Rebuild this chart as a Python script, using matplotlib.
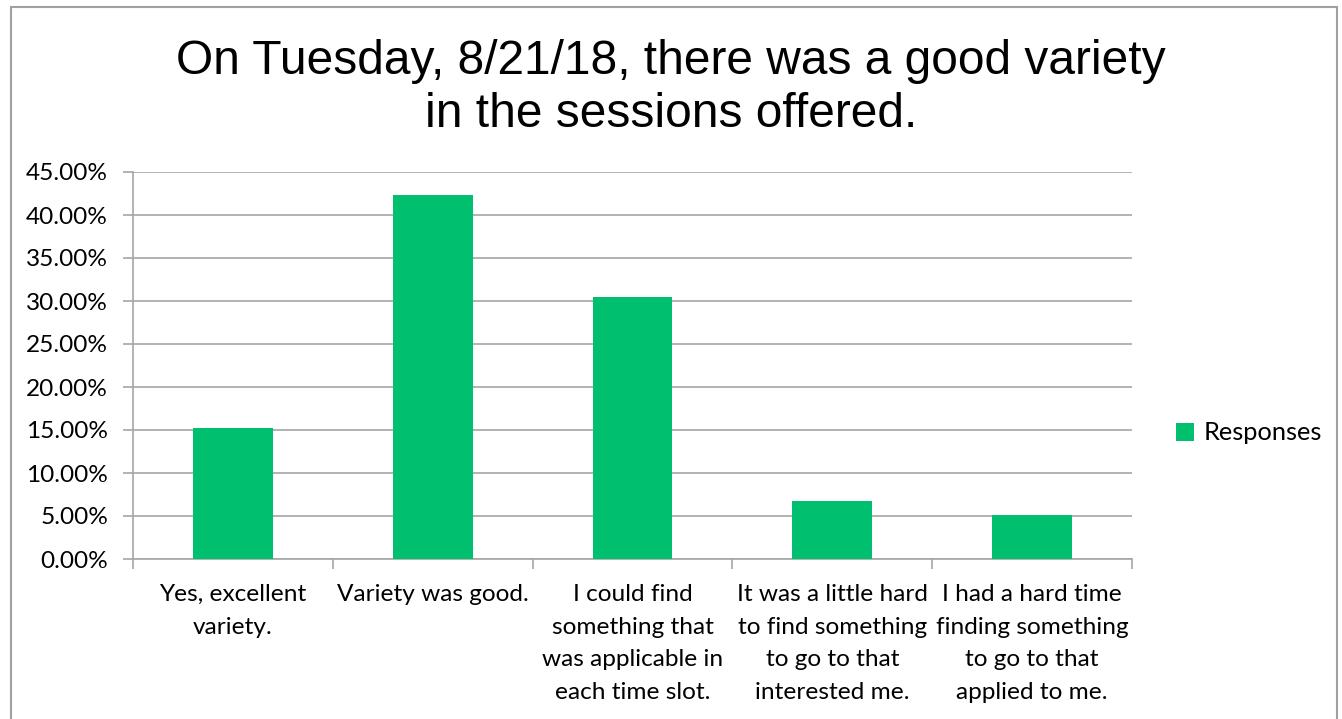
import matplotlib.pyplot as plt
from matplotlib.patches import Rectangle
from matplotlib.ticker import FuncFormatter, MultipleLocator

categories = [
    "Yes, excellent\nvariety.",
    "Variety was good.",
    "I could find\nsomething that\nwas applicable in\neach time slot.",
    "It was a little hard\nto find something\nto go to that\ninterested me.",
    "I had a hard time\nfinding something\nto go to that\napplied to me.",
]
responses = [15.25, 42.37, 30.51, 6.78, 5.08]

green = "#00BF6F"
grid_c = "#A6A6A6"
label_font = "Lato"

fig = plt.figure(figsize=(13.42, 7.19), dpi=100)
ax = fig.add_axes([133 / 1342, 1 - 559 / 719, (1132 - 133) / 1342, (559 - 172) / 719])

x = range(len(categories))
ax.bar(x, responses, width=0.4, color=green, label="Responses", zorder=3)

ax.set_xlim(-0.5, len(categories) - 0.5)
ax.set_ylim(0, 45)
ax.yaxis.set_major_locator(MultipleLocator(5))
ax.yaxis.set_major_formatter(FuncFormatter(lambda v, p: f"{v:.2f}%"))
ax.grid(axis="y", color=grid_c, linewidth=1.2, zorder=0)

for s in ["top", "right"]:
    ax.spines[s].set_visible(False)
for s in ["left", "bottom"]:
    ax.spines[s].set_color(grid_c)
    ax.spines[s].set_linewidth(1.2)

# category labels below, tick marks at category boundaries
ax.set_xticks([i - 0.5 for i in range(len(categories) + 1)])
ax.set_xticklabels([])
ax.set_xticks(list(x), minor=True)
ax.set_xticklabels(categories, minor=True, fontsize=17.6, family=label_font,
                   linespacing=1.68, va="top")
ax.tick_params(axis="x", which="major", length=7, color=grid_c, width=1.2)
ax.tick_params(axis="x", which="minor", length=0, pad=18)
ax.tick_params(axis="y", length=7, color=grid_c, width=1.2, pad=11)
for t in ax.get_yticklabels():
    t.set_fontsize(17.6)
    t.set_family(label_font)

fig.text(0.5, 1 - 127 / 719, "On Tuesday, 8/21/18, there was a good variety\nin the sessions offered.",
         ha="center", va="baseline", fontsize=34.5, family="Liberation Sans",
         linespacing=1.24)

leg = fig.legend(loc="center left", bbox_to_anchor=(1153 / 1342, 1 - 433 / 719),
                 frameon=False, prop={"family": label_font, "size": 18.3},
                 handlelength=0.7, handleheight=0.7, handletextpad=0.4)

# outer chart border
fig.patches.append(Rectangle((11 / 1342, -0.05), (1337 - 11) / 1342, 1.05 - 7 / 719,
                             transform=fig.transFigure, fill=False,
                             edgecolor="#A0A0A0", linewidth=1.5))

fig.savefig("out.png", dpi=100)
